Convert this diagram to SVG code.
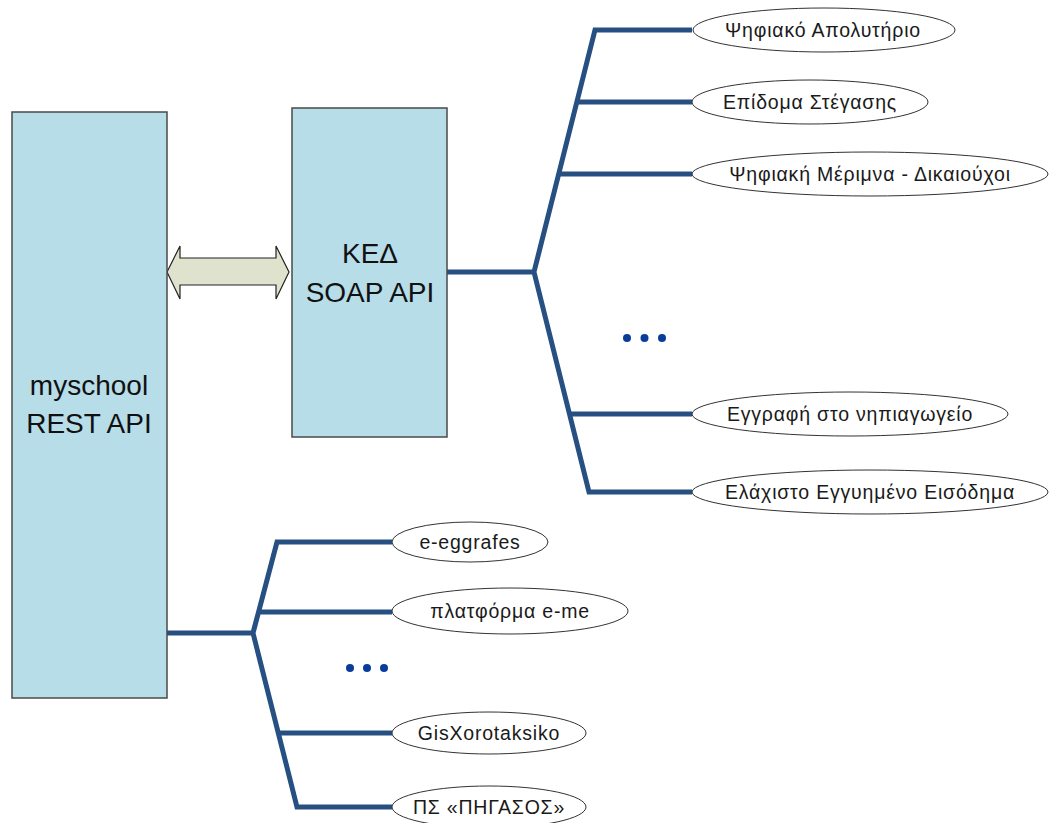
<svg xmlns="http://www.w3.org/2000/svg" width="1050" height="823" viewBox="0 0 1050 823">
<style>
.box{fill:#b7dde8;stroke:#4a4a4a;stroke-width:1.5}
.big{font-family:"Liberation Sans",Arial,sans-serif;font-size:28px;fill:#111;text-anchor:middle}
.ell{fill:#fff;stroke:#333;stroke-width:1}
.lbl{font-family:"Liberation Sans",Arial,sans-serif;font-size:19.5px;letter-spacing:0.8px;fill:#1a1a1a;text-anchor:middle}
.bus{fill:none;stroke:#264f82;stroke-width:5;stroke-linejoin:miter}
.dot{fill:#0a3c9a}
</style>
<rect width="1050" height="823" fill="#fff"/>
<g id="connectors">
<path class="bus" d="M167,633 H253 M253,633 L277,542 H392 M258.5,612 H392 M253,633 L297,807 H392 M278,733 H392"/>
<path class="bus" d="M447,272 H534 M534,272 L595,30 H692 M577,102 H692 M558.7,174 H692 M534,272 L589,492 H692 M569.5,414 H692"/>
<polygon id="double-arrow" points="167,272 180,246 180,258 276,258 276,246 289,272 276,299 276,285 180,285 180,299" fill="#dfe3cd" stroke="#222" stroke-width="1.2"/>
</g>
<g id="myschool">
<rect class="box" x="12" y="112" width="155" height="586"/>
<text class="big" x="89" y="395">myschool</text>
<text class="big" x="89" y="433">REST API</text>
</g>
<g id="ked">
<rect class="box" x="292" y="108" width="155" height="329"/>
<text class="big" x="370" y="263">ΚΕΔ</text>
<text class="big" x="370" y="302">SOAP API</text>
</g>
<g id="n1"><ellipse class="ell" cx="824" cy="30" rx="131" ry="22"/><text class="lbl" x="823" y="37">Ψηφιακό Απολυτήριο</text></g>
<g id="n2"><ellipse class="ell" cx="810" cy="102" rx="118" ry="22"/><text class="lbl" x="810" y="109">Επίδομα Στέγασης</text></g>
<g id="n3"><ellipse class="ell" cx="870" cy="174" rx="178" ry="22"/><text class="lbl" x="870" y="181">Ψηφιακή Μέριμνα - Δικαιούχοι</text></g>
<g id="dots-top"><circle class="dot" cx="627" cy="338" r="4"/><circle class="dot" cx="644.5" cy="338" r="4"/><circle class="dot" cx="662" cy="338" r="4"/></g>
<g id="n4"><ellipse class="ell" cx="850" cy="414" rx="158" ry="22"/><text class="lbl" x="850" y="421">Εγγραφή στο νηπιαγωγείο</text></g>
<g id="n5"><ellipse class="ell" cx="870" cy="492" rx="178" ry="22"/><text class="lbl" x="870" y="499">Ελάχιστο Εγγυημένο Εισόδημα</text></g>
<g id="b1"><ellipse class="ell" cx="470" cy="542" rx="78" ry="20"/><text class="lbl" x="470" y="549">e-eggrafes</text></g>
<g id="b2"><ellipse class="ell" cx="510" cy="611" rx="118" ry="23"/><text class="lbl" x="510" y="618">πλατφόρμα e-me</text></g>
<g id="dots-bottom"><circle class="dot" cx="350" cy="668" r="4"/><circle class="dot" cx="367" cy="668" r="4"/><circle class="dot" cx="384" cy="668" r="4"/></g>
<g id="b3"><ellipse class="ell" cx="489" cy="733" rx="97" ry="21"/><text class="lbl" x="489" y="740">GisXorotaksiko</text></g>
<g id="b4"><ellipse class="ell" cx="489" cy="807" rx="97" ry="21"/><text class="lbl" x="489" y="814">ΠΣ «ΠΗΓΑΣΟΣ»</text></g>
</svg>
